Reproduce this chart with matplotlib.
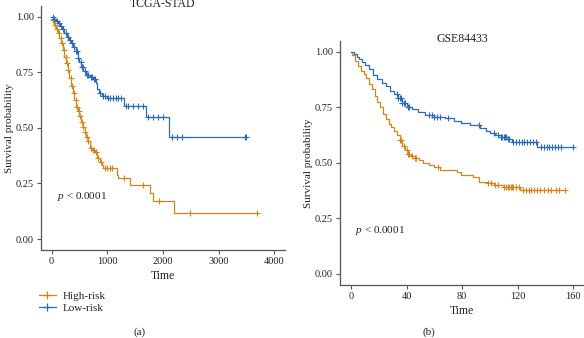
import numpy as np
import matplotlib
matplotlib.use('Agg')
import matplotlib.pyplot as plt
from matplotlib.lines import Line2D

plt.rcParams['font.family'] = ['Liberation Serif', 'DejaVu Serif']
plt.rcParams['mathtext.fontset'] = 'custom'
plt.rcParams['mathtext.rm'] = 'Liberation Serif'
plt.rcParams['mathtext.it'] = 'Liberation Serif:italic'

ORANGE = '#D4861E'
BLUE = '#2E6BB5'

# TCGA-STAD, low-risk
tcga_low_t = [0, 30, 70, 110, 150, 190, 230, 270, 310, 350, 390, 430, 470, 500, 530,
              570, 620, 680, 740, 790, 820, 850, 900, 1000, 1300, 1690, 2100]
tcga_low_s = [1.0, 0.99, 0.98, 0.97, 0.96, 0.945, 0.925, 0.91, 0.895, 0.88, 0.865, 0.845,
              0.815, 0.795, 0.775, 0.755, 0.74, 0.73, 0.72, 0.70, 0.675, 0.655, 0.645,
              0.635, 0.598, 0.55, 0.46]
tcga_low_end = 3500
tcga_low_cens = [20, 50, 90, 130, 170, 210, 250, 290, 330, 370, 410, 440, 460, 480, 520,
                 550, 560, 600, 640, 660, 700, 720, 760, 780, 870, 930, 960, 1010, 1050,
                 1100, 1150, 1200, 1250, 1330, 1380, 1470, 1560, 1650, 1740, 1830, 1920,
                 2010, 2160, 2250, 2340, 3480, 3500]

# TCGA-STAD, high-risk
tcga_high_t = [0, 20, 50, 80, 110, 140, 170, 200, 230, 260, 290, 320, 350, 380, 410, 440,
               470, 500, 530, 560, 590, 620, 650, 680, 720, 780, 810, 860, 900, 930, 1170,
               1200, 1410, 1770, 1830, 2200]
tcga_high_s = [1.0, 0.985, 0.965, 0.945, 0.925, 0.905, 0.88, 0.85, 0.82, 0.79, 0.76, 0.725,
               0.69, 0.655, 0.625, 0.595, 0.575, 0.555, 0.525, 0.505, 0.48, 0.46, 0.44,
               0.41, 0.40, 0.39, 0.365, 0.345, 0.335, 0.32, 0.29, 0.273, 0.243, 0.206,
               0.172, 0.116]
tcga_high_end = 3690
tcga_high_cens = [30, 60, 100, 130, 160, 190, 220, 250, 280, 300, 340, 370, 400, 430, 460,
                  490, 510, 540, 570, 600, 630, 660, 700, 740, 760, 790, 830, 880, 950, 990,
                  1040, 1080, 1300, 1650, 1930, 2490, 3690]

# GSE84433, low-risk
gse_low_t = [0, 2, 4, 6, 8, 10, 13, 16, 19, 22, 25, 28, 31, 34, 37, 40, 44, 48, 53, 60, 68,
             74, 79, 86, 93, 97, 100, 104, 108, 113, 116, 134]
gse_low_s = [1.0, 0.99, 0.975, 0.965, 0.955, 0.94, 0.92, 0.895, 0.875, 0.86, 0.845, 0.825,
             0.81, 0.79, 0.77, 0.752, 0.74, 0.73, 0.715, 0.707, 0.70, 0.69, 0.677, 0.67,
             0.655, 0.645, 0.635, 0.625, 0.615, 0.605, 0.595, 0.572]
gse_low_end = 160
gse_low_cens = [33, 34, 35, 36, 37, 38, 39, 41, 42, 56, 58, 60, 62, 64, 70, 92, 103, 106,
                108, 109, 110, 111, 112, 113, 114, 117, 119, 121, 123, 125, 127, 129, 131,
                133, 137, 139, 141, 143, 145, 147, 149, 151, 160]

# GSE84433, high-risk
gse_high_t = [0, 1, 3, 5, 7, 9, 11, 13, 15, 17, 19, 21, 23, 25, 27, 29, 31, 33, 35, 37, 39,
              41, 43, 46, 49, 52, 56, 60, 64, 76, 79, 88, 92, 98, 103, 110, 122]
gse_high_s = [1.0, 0.985, 0.96, 0.935, 0.915, 0.9, 0.88, 0.855, 0.83, 0.8, 0.775, 0.75,
              0.72, 0.695, 0.675, 0.66, 0.645, 0.625, 0.6, 0.575, 0.555, 0.54, 0.53, 0.52,
              0.51, 0.5, 0.49, 0.48, 0.467, 0.46, 0.445, 0.437, 0.415, 0.407, 0.40, 0.392,
              0.377]
gse_high_end = 154
gse_high_cens = [35, 36, 38, 40, 41, 42, 44, 46, 47, 63, 99, 101, 104, 106, 110, 112, 113,
                 114, 115, 116, 117, 119, 121, 124, 126, 128, 130, 132, 134, 136, 139, 142,
                 144, 148, 150, 154]


def km(ax, t, s, end, cens, color):
    tt = list(t) + [end]
    ss = list(s) + [s[-1]]
    ax.step(tt, ss, where='post', color=color, lw=0.9)
    idx = np.searchsorted(t, cens, side='right') - 1
    cy = np.array(s)[idx]
    ax.plot(cens, cy, '+', color=color, ms=4.5, mew=0.8)


def style(ax, title, xlim, xticks, xtl):
    ax.set_xlim(*xlim)
    ax.set_ylim(-0.05, 1.05)
    ax.set_xticks(xticks)
    ax.set_xticklabels(xtl)
    ax.set_yticks([0, 0.25, 0.5, 0.75, 1.0])
    ax.set_yticklabels(['0.00', '0.25', '0.50', '0.75', '1.00'])
    for sp in ['top', 'right']:
        ax.spines[sp].set_visible(False)
    for sp in ['left', 'bottom']:
        ax.spines[sp].set_color('#555555')
        ax.spines[sp].set_linewidth(0.9)
    ax.tick_params(length=3, width=0.8, color='#555555', labelsize=7.5,
                   labelcolor='#222222', pad=2)
    ax.set_xlabel('Time', fontsize=8.5, color='#222222', labelpad=3)
    ax.set_ylabel('Survival probability', fontsize=8, color='#222222', labelpad=1.5)
    ax.text(0.5, 0.995, title, transform=ax.transAxes, fontsize=8.5, color='#222222',
            ha='center', va='baseline')


fig = plt.figure(figsize=(5.84, 3.38), dpi=100)

ax1 = fig.add_axes([0.0702, 0.260, 0.418, 0.7234])
km(ax1, tcga_high_t, tcga_high_s, tcga_high_end, tcga_high_cens, ORANGE)
km(ax1, tcga_low_t, tcga_low_s, tcga_low_end, tcga_low_cens, BLUE)
style(ax1, 'TCGA-STAD', (-192, 4196), [0, 1000, 2000, 3000, 4000],
      ['0', '1000', '2000', '3000', '4000'])
ax1.text(100, 0.19, r'$p$ < 0.0001', fontsize=8, color='#222222', va='center')

ax2 = fig.add_axes([0.5822, 0.1574, 0.418, 0.7225])
km(ax2, gse_high_t, gse_high_s, gse_high_end, gse_high_cens, ORANGE)
km(ax2, gse_low_t, gse_low_s, gse_low_end, gse_low_cens, BLUE)
style(ax2, 'GSE84433', (-8, 168), [0, 40, 80, 120, 160],
      ['0', '40', '80', '120', '160'])
ax2.text(3, 0.195, r'$p$ < 0.0001', fontsize=8, color='#222222', va='center')

handles = [Line2D([], [], color=ORANGE, marker='+', lw=0.9, ms=6, mew=0.9),
           Line2D([], [], color=BLUE, marker='+', lw=0.9, ms=6, mew=0.9)]
fig.legend(handles, ['High-risk', 'Low-risk'], loc='upper left',
           bbox_to_anchor=(0.066, 0.138), frameon=False, fontsize=8,
           handlelength=1.6, handletextpad=0.6, labelspacing=0.15, borderpad=0,
           borderaxespad=0, labelcolor='#222222')

fig.text(140 / 584, 1 - 332 / 338, '(a)', fontsize=8, ha='center', va='center',
         color='#222222')
fig.text(429 / 584, 1 - 332 / 338, '(b)', fontsize=8, ha='center', va='center',
         color='#222222')

fig.savefig('out.png', dpi=100)
